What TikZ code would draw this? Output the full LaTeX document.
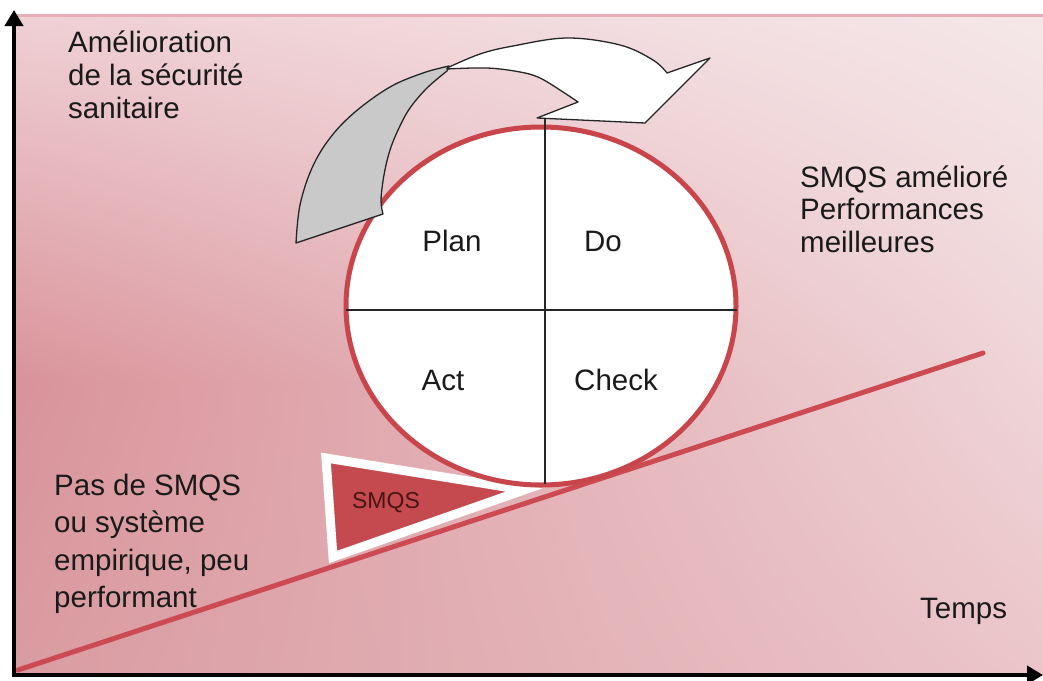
\documentclass[tikz,border=0pt]{standalone}
\usepackage{fontspec}
\setmainfont{Liberation Sans}
\usetikzlibrary{arrows.meta,shapes.geometric,shadings}
\definecolor{bgUL}{HTML}{EFD0D4}
\definecolor{bgUR}{HTML}{F5E7E9}
\definecolor{bgML}{HTML}{D9939A}
\definecolor{bgMR}{HTML}{EFD5D8}
\definecolor{bgLL}{HTML}{D99CA1}
\definecolor{bgLR}{HTML}{EBC5C9}
\definecolor{topPink}{HTML}{E6ADB2}
\definecolor{lineRed}{HTML}{CC4B52}
\definecolor{circRed}{HTML}{C8454C}
\definecolor{triRed}{HTML}{C44A50}
\definecolor{arrowGray}{HTML}{C9C9C9}
\definecolor{ink}{HTML}{1A1A1A}
\tikzset{
  axisline/.style={line width=4pt, draw=black, -{Triangle[length=16pt,width=18pt]}},
  redline/.style={draw=lineRed, line width=5pt, line cap=round},
  quadline/.style={draw=black!85, line width=1.2pt},
  arrowface/.style={draw=black!85, line width=1.3pt, line join=round},
  lbl/.style={text=ink, inner sep=0pt, align=left, anchor=base west},
  quadlbl/.style={text=ink, inner sep=0pt, anchor=base, font=\fontsize{29.5}{33}\selectfont},
}
\begin{document}
\begin{tikzpicture}[x=1pt,y=-1pt]
\useasboundingbox (0,0) rectangle (1043,680);
\fill[white] (0,0) rectangle (1043,680);
% background
\shade[upper left=bgUL, upper right=bgUR, lower left=bgML, lower right=bgMR] (14,14) rectangle (1043,381);
\shade[upper left=bgML, upper right=bgMR, lower left=bgLL, lower right=bgLR] (14,380) rectangle (1043,675);
\draw[topPink, line width=2.5pt] (14,15.5) -- (1043,15.5);
% coordinates
\coordinate (O) at (14,675);
\coordinate (Ytop) at (14,10);
\coordinate (Xo) at (12,675);
\coordinate (Xend) at (1043,675);
\coordinate (L0) at (18,670);
\coordinate (L1) at (983,353);
% rising line
\draw[redline] (L0) -- (L1);
% SMQS triangle
\filldraw[fill=triRed, draw=white, line width=9pt, line join=miter] (326,458) -- (333,557) -- (524,490) -- cycle;
\node[text=ink!80!red, inner sep=0pt, anchor=base, font=\fontsize{23}{26}\selectfont] (smqs) at (386,508) {SMQS};
% PDCA circle
\node[ellipse, draw=circRed, line width=5pt, fill=white, minimum width=390pt, minimum height=358pt, inner sep=0pt, outer sep=0pt] (pdca) at (541,306) {};
\coordinate (vtop) at (545,118);
\coordinate (vbot) at (545,484);
\coordinate (hl) at (346,310);
\coordinate (hr) at (737,310);
\draw[quadline] (vtop) -- (vbot);
\draw[quadline] (hl) -- (hr);
\node[quadlbl] (plan) at (452,251) {Plan};
\node[quadlbl] (do) at (603,251) {Do};
\node[quadlbl] (act) at (443,390) {Act};
\node[quadlbl] (check) at (616,390) {Check};
% curved arrow: gray back face
\filldraw[arrowface, fill=arrowGray]
  plot[smooth, tension=0.6] coordinates {(296,243) (300,205) (312,168) (330,138) (355,112) (390,87) (423,73) (449,66)}
  -- plot[smooth, tension=0.6] coordinates {(447,71) (427,88) (410,108) (399,128) (390,150) (384,175) (381,200) (383,214)}
  -- cycle;
% curved arrow: white front face with head
\filldraw[arrowface, fill=white]
  plot[smooth, tension=0.6] coordinates {(447,68) (480,54) (513,46) (567,38) (620,45) (653,60) (667,73)}
  -- (710,58) -- (645,123) -- (537,118) -- (578,102)
  -- plot[smooth, tension=0.6] coordinates {(578,102) (563,92) (540,78) (520,72) (487,68) (447,69)}
  -- cycle;
% texts (base anchor = baseline of last line)
\node[lbl, font=\fontsize{29.5}{33.3}\selectfont] (ylab) at (68,118.6) {Amélioration\\de la sécurité\\sanitaire};
\node[lbl, font=\fontsize{29.5}{32.5}\selectfont] (better) at (800,252) {SMQS amélioré\\Performances\\meilleures};
\node[lbl, font=\fontsize{29.5}{37.5}\selectfont] (none) at (54,607.5) {Pas de SMQS\\ou système\\empirique, peu\\performant};
\node[lbl, font=\fontsize{29.5}{33}\selectfont] (temps) at (920,618) {Temps};
% axes
\draw[axisline] (O) -- (Ytop);
\draw[axisline] (Xo) -- (Xend);
\end{tikzpicture}
\end{document}
